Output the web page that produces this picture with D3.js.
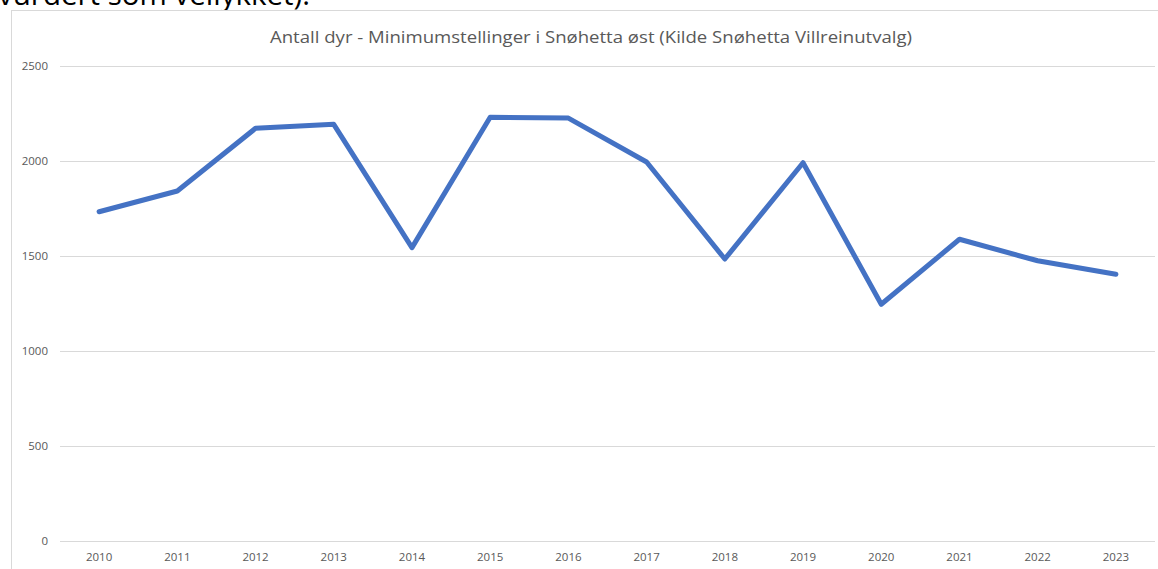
<!DOCTYPE html>
<html>
<head>
<meta charset="utf-8">
<script src="https://cdn.jsdelivr.net/npm/d3@7"></script>
<style>
  body { margin: 0; background: #fff; }
  svg { display: block; font-family: "Open Sans", "Liberation Sans", sans-serif; }
</style>
</head>
<body>
<svg id="chart" width="1158" height="569"></svg>
<script>
// data
var years = ["2010", "2011", "2012", "2013", "2014", "2015", "2016",
             "2017", "2018", "2019", "2020", "2021", "2022", "2023"];
var counts = [1733, 1842, 2172, 2193, 1544, 2230, 2226,
              1995, 1484, 1991, 1246, 1588, 1475, 1404];
var yTicks = [0, 500, 1000, 1500, 2000, 2500];

var TITLE = "Antall dyr - Minimumstellinger i Snøhetta øst (Kilde Snøhetta Villreinutvalg)";
var PAGE_TEXT = "vurdert som vellykket).";

var PLOT_L = 60, PLOT_R = 1155, PLOT_T = 66, PLOT_B = 541;
var TEXT_GREY = "#595959";

var svg = d3.select("#chart");

// leftover document text above the chart (cut at the top, as in the screenshot)
svg.append("text")
	.attr("x", -2).attr("y", 5)
	.attr("font-size", 30)
	.attr("fill", "#000")
	.attr("textLength", 312)
	.attr("lengthAdjust", "spacingAndGlyphs")
	.text(PAGE_TEXT);

// chart area frame
svg.append("rect")
	.attr("x", 11.5).attr("y", 10.5)
	.attr("width", 1160).attr("height", 600)
	.attr("fill", "#fff")
	.attr("stroke", "#d9d9d9");

svg.append("text")
	.attr("x", 591).attr("y", 43)
	.attr("text-anchor", "middle")
	.attr("font-size", 16)
	.attr("fill", TEXT_GREY)
	.attr("textLength", 642)
	.attr("lengthAdjust", "spacingAndGlyphs")
	.text(TITLE);

var x = d3.scaleBand().domain(years).range([PLOT_L, PLOT_R]);
var y = d3.scaleLinear().domain([0, 2500]).range([PLOT_B, PLOT_T]);

// gridlines + y labels
var yAxis = d3.axisLeft(y)
	.tickValues(yTicks)
	.tickFormat(d3.format("d"))
	.tickSize(-(PLOT_R - PLOT_L))
	.tickPadding(12);

var gy = svg.append("g")
	.attr("transform", "translate(" + PLOT_L + ",0)")
	.call(yAxis);
gy.select(".domain").remove();
gy.selectAll(".tick line").attr("stroke", "#d9d9d9").attr("stroke-width", 1);
gy.selectAll(".tick text")
	.attr("fill", TEXT_GREY)
	.attr("font-size", 11.5)
	.attr("font-family", "Open Sans, sans-serif");

// x labels
var xAxis = d3.axisBottom(x).tickSize(0).tickPadding(12);
var gx = svg.append("g")
	.attr("transform", "translate(0," + PLOT_B + ")")
	.call(xAxis);
gx.select(".domain").remove();
gx.selectAll(".tick text")
	.attr("fill", TEXT_GREY)
	.attr("font-size", 11.5)
	.attr("font-family", "Open Sans, sans-serif");

// the series
var line = d3.line()
	.x(function(d, i) { return x(years[i]) + x.bandwidth() / 2; })
	.y(function(d) { return y(d); });

svg.append("path")
	.datum(counts)
	.attr("d", line)
	.attr("fill", "none")
	.attr("stroke", "#4472c4")
	.attr("stroke-width", 5)
	.attr("stroke-linejoin", "round")
	.attr("stroke-linecap", "round");
</script>
</body>
</html>
